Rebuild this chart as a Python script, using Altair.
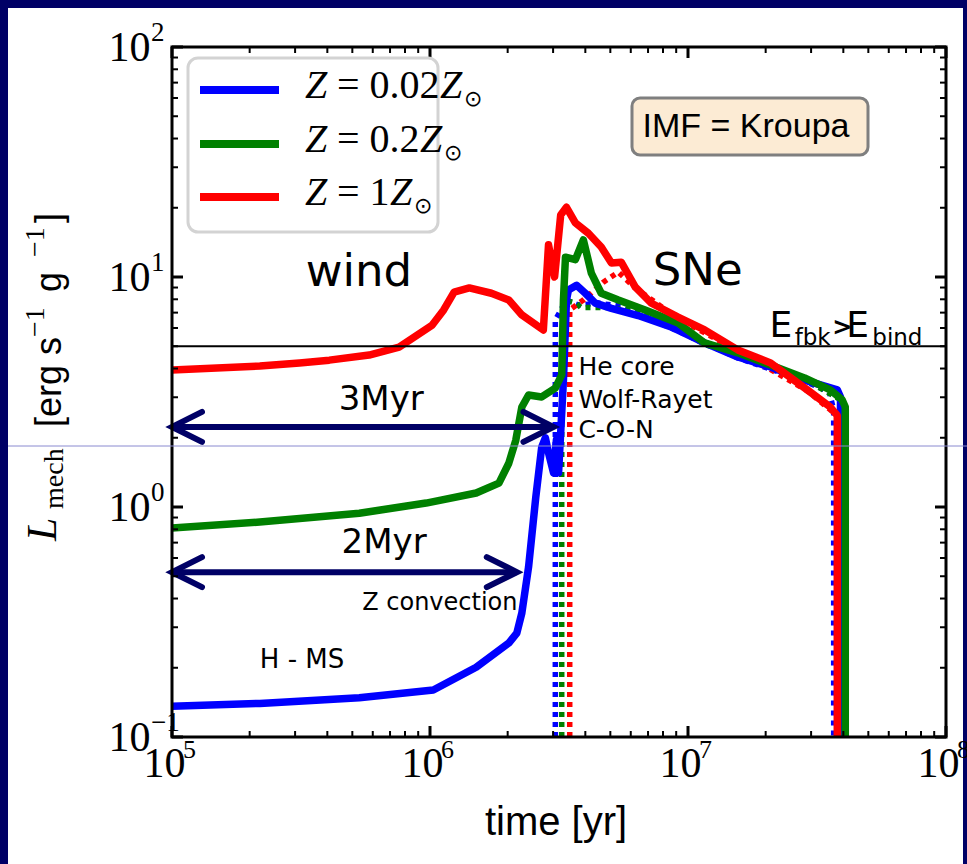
import altair as alt
import pandas as pd

# ---------------- data ----------------
blue_t = [1.00e5, 2.19e5, 5.32e5, 1.03e6, 1.51e6, 2.02e6, 2.17e6, 2.27e6, 2.41e6, 2.57e6,
          2.71e6, 2.80e6, 2.88e6, 3.01e6, 3.09e6, 3.15e6, 3.29e6, 3.38e6, 3.44e6, 3.70e6,
          4.00e6, 4.37e6, 5.05e6, 6.41e6, 8.60e6, 1.16e7, 1.56e7, 2.09e7, 2.83e7, 3.79e7,
          3.90e7, 3.90e7]
blue_L = [0.136, 0.140, 0.148, 0.160, 0.201, 0.256, 0.283, 0.346, 0.548, 1.10,
          1.82, 2.00, 1.72, 1.41, 1.96, 1.41, 3.56, 7.94, 8.78, 9.20,
          8.50, 7.70, 7.30, 6.80, 6.07, 5.17, 4.49, 4.06, 3.56, 3.23,
          3.01, 0.10]

green_t = [1.00e5, 2.19e5, 5.32e5, 9.66e5, 1.51e6, 1.85e6, 2.02e6, 2.15e6, 2.27e6, 2.41e6,
           2.71e6, 3.06e6, 3.24e6, 3.29e6, 3.35e6, 3.66e6, 3.93e6, 4.22e6, 4.61e6, 5.37e6,
           6.82e6, 9.15e6, 1.16e7, 1.56e7, 2.09e7, 2.83e7, 3.56e7, 3.96e7, 4.07e7, 4.07e7]
green_L = [0.81, 0.86, 0.94, 1.04, 1.15, 1.27, 1.55, 1.95, 2.72, 3.07,
           3.01, 3.29, 3.75, 7.94, 12.2, 11.9, 14.5, 10.4, 8.50, 7.94,
           7.19, 6.31, 5.17, 4.68, 4.14, 3.64, 3.23, 2.92, 2.72, 0.10]

red_t = [1.00e5, 2.19e5, 3.12e5, 4.07e5, 5.81e5, 7.59e5, 1.02e6, 1.13e6, 1.24e6, 1.42e6,
         1.73e6, 2.02e6, 2.27e6, 2.75e6, 2.88e6, 3.04e6, 3.21e6, 3.38e6, 3.66e6, 4.11e6,
         4.61e6, 5.05e6, 5.51e6, 6.24e6, 7.19e6, 9.15e6, 1.16e7, 1.56e7, 2.09e7, 2.90e7,
         3.56e7, 3.72e7, 3.79e7, 3.79e7]
red_L = [3.94, 4.10, 4.23, 4.35, 4.58, 4.96, 6.18, 7.19, 8.60, 8.96,
         8.50, 7.94, 6.84, 5.88, 13.8, 10.0, 18.6, 20.1, 17.2, 15.5,
         13.5, 11.5, 11.6, 9.06, 7.71, 6.70, 5.89, 4.82, 4.23, 3.23,
         2.72, 2.56, 2.50, 0.10]

blue_dot_t = [3.06e6, 3.06e6, 3.38e6, 3.76e6, 4.50e6, 5.37e6, 8.6e6, 1.56e7, 2.83e7, 3.53e7, 3.67e7, 3.67e7]
blue_dot_L = [0.10, 6.5, 7.94, 7.55, 7.70, 7.48, 6.0, 4.45, 3.53, 3.16, 2.64, 0.10]
green_dot_t = [3.24e6, 3.24e6, 3.32e6, 3.66e6, 3.85e6, 4.90e6, 6.82e6, 1.16e7, 2.83e7, 3.96e7, 4.07e7, 4.07e7]
green_dot_L = [0.10, 3.56, 7.94, 7.71, 7.37, 7.37, 7.05, 5.10, 3.60, 2.90, 2.70, 0.10]
red_dot_t = [3.48e6, 3.48e6, 3.93e6, 4.70e6, 5.37e6, 6.24e6, 9.15e6, 1.56e7, 2.90e7, 3.72e7, 3.79e7, 3.79e7]
red_dot_L = [0.10, 7.2, 7.94, 9.5, 10.5, 8.96, 6.6, 4.78, 3.20, 2.54, 2.50, 0.10]

E_bind = 5.0

x_major = [1e5, 1e6, 1e7, 1e8]
x_exp = ["5", "6", "7", "8"]
y_major = [0.1, 1, 10, 100]
y_exp = ["\u22121", "0", "1", "2"]
x_minor = [m * d for d in [1e5, 1e6, 1e7] for m in range(2, 10)]
y_minor = [m * d for d in [0.1, 1, 10] for m in range(2, 10)]

legend_labels = [("0.02", 268), ("0.2", 248), ("1", 218)]
series_colors = ["#0000ff", "#008000", "#ff0000"]

NAVY = "#000066"
W, H = 774, 690

# ---------------- scales / axes ----------------
xs = alt.Scale(type="log", domain=[1e5, 1e8], nice=False)
ys = alt.Scale(type="log", domain=[0.1, 100], nice=False)
xaxis = alt.Axis(values=x_major, labelExpr="'10'", ticks=False, domain=False, grid=False,
                 labelFont="Liberation Serif", labelFontSize=42, labelColor="black",
                 labelPadding=6, labelOffset=-8, labelFlush=False, labelOverlap=False,
                 labelBound=False, title="", zindex=2)
yaxis = alt.Axis(values=y_major, labelExpr="'10'", ticks=False, domain=False, grid=False,
                 labelFont="Liberation Serif", labelFontSize=42, labelColor="black",
                 labelPadding=22, labelBaseline="middle", labelFlush=False,
                 labelOverlap=False, labelBound=False, title="", zindex=2)


def X(f):
    return alt.X(f, type="quantitative", scale=xs, axis=xaxis)


def Y(f):
    return alt.Y(f, type="quantitative", scale=ys, axis=yaxis)


def sdf(t, L):
    return pd.DataFrame({"t": t, "L": L, "i": list(range(len(t)))})


def one():
    return pd.DataFrame({"k": [0]})


def line(t, L, color, **kw):
    return alt.Chart(sdf(t, L)).mark_line(color=color, clip=True, **kw).encode(
        x=X("t"), y=Y("L"), order="i:Q")


def ann(text, t, L, **kw):
    return alt.Chart(pd.DataFrame({"t": [t], "L": [L], "s": [text]})).mark_text(**kw).encode(
        x=X("t"), y=Y("L"), text="s:N")


def ptxt(text, x, y, **kw):
    return alt.Chart(pd.DataFrame({"s": [text]})).mark_text(**kw).encode(
        x=alt.value(x), y=alt.value(y), text="s:N")


layers = []

# white slide panel
layers.append(alt.Chart(one()).mark_rect(color="white").encode(
    x=alt.value(-164), x2=alt.value(791), y=alt.value(-39), y2=alt.value(817)))

# dotted lines
for t, L, c in [(blue_dot_t, blue_dot_L, series_colors[0]),
                (green_dot_t, green_dot_L, series_colors[1]),
                (red_dot_t, red_dot_L, series_colors[2])]:
    layers.append(line(t, L, c, strokeWidth=5.5, strokeDash=[5, 5]))

# solid lines
for t, L, c in [(blue_t, blue_L, series_colors[0]),
                (green_t, green_L, series_colors[1]),
                (red_t, red_L, series_colors[2])]:
    layers.append(line(t, L, c, strokeWidth=7.5, strokeJoin="round"))

# binding-energy line
layers.append(alt.Chart(pd.DataFrame({"L": [E_bind]})).mark_rule(
    color="black", strokeWidth=2).encode(y=Y("L")))

# arrows
arrows = pd.DataFrame({"t0": [1e5, 1e5], "t1": [3.01e6, 2.17e6], "L": [2.23, 0.521]})
layers.append(alt.Chart(arrows).mark_rule(color=NAVY, strokeWidth=6).encode(
    x=X("t0"), x2="t1", y=Y("L")))
layers.append(alt.Chart(arrows).mark_point(
    shape="M-1,-0.5L0,0L-1,0.5", filled=False, size=3600, strokeWidth=6, color=NAVY,
    opacity=1, strokeCap="round").encode(x=X("t1"), y=Y("L")))
layers.append(alt.Chart(arrows).mark_point(
    shape="M1,-0.5L0,0L1,0.5", filled=False, size=3600, strokeWidth=6, color=NAVY,
    opacity=1, strokeCap="round").encode(x=X("t0"), y=Y("L")))

# annotations
F = "DejaVu Sans"
layers.append(ann("wind", 5.3e5, 9.14, font=F, fontSize=45, align="center", baseline="alphabetic"))
layers.append(ann("SNe", 1.09e7, 9.22, font=F, fontSize=45, align="center", baseline="alphabetic"))
layers.append(ann("3Myr", 6.47e5, 2.64, font=F, fontSize=34, align="center", baseline="alphabetic"))
layers.append(ann("2Myr", 6.64e5, 0.63, font=F, fontSize=34, align="center", baseline="alphabetic"))
layers.append(ann("Z convection", 5.46e5, 0.356, font=F, fontSize=24, align="left", baseline="alphabetic"))
layers.append(ann("H - MS", 2.19e5, 0.20, font=F, fontSize=26, align="left", baseline="alphabetic"))
for s, L in [("He core", 3.75), ("Wolf-Rayet", 2.69), ("C-O-N", 2.0)]:
    layers.append(ann(s, 3.76e6, L, font=F, fontSize=25, align="left", baseline="alphabetic"))
layers.append(ann("E", 2.07e7, 5.48, font=F, fontSize=36, align="left", baseline="alphabetic"))
layers.append(ann("fbk", 2.59e7, 5.06, font=F, fontSize=23, align="left", baseline="alphabetic"))
layers.append(ann(">", 3.62e7, 6.0, font=F, fontSize=24, fontWeight="bold", align="left", baseline="middle"))
layers.append(ann("E", 4.11e7, 5.48, font=F, fontSize=36, align="left", baseline="alphabetic"))
layers.append(ann("bind", 5.18e7, 5.06, font=F, fontSize=23, align="left", baseline="alphabetic"))

# frame and inward ticks
layers.append(alt.Chart(one()).mark_rect(filled=False, stroke="black", strokeWidth=3).encode(
    x=alt.value(0), x2=alt.value(W), y=alt.value(0), y2=alt.value(H)))
for vals, ln, sw in [(x_major, 11, 3), (x_minor, 6, 2)]:
    d = pd.DataFrame({"v": vals})
    layers.append(alt.Chart(d).mark_rule(color="black", strokeWidth=sw).encode(
        x=X("v"), y=alt.value(H), y2=alt.value(H - ln)))
    layers.append(alt.Chart(d).mark_rule(color="black", strokeWidth=sw).encode(
        x=X("v"), y=alt.value(0), y2=alt.value(ln)))
for vals, ln, sw in [(y_major, 11, 3), (y_minor, 6, 2)]:
    d = pd.DataFrame({"v": vals})
    layers.append(alt.Chart(d).mark_rule(color="black", strokeWidth=sw).encode(
        y=Y("v"), x=alt.value(0), x2=alt.value(ln)))
    layers.append(alt.Chart(d).mark_rule(color="black", strokeWidth=sw).encode(
        y=Y("v"), x=alt.value(W), x2=alt.value(W - ln)))

# tick label exponents
layers.append(alt.Chart(pd.DataFrame({"v": x_major, "e": x_exp})).mark_text(
    font="Liberation Serif", fontSize=26, align="left", baseline="alphabetic", dx=11,
    color="black").encode(x=X("v"), y=alt.value(711), text="e:N"))
layers.append(alt.Chart(pd.DataFrame({"v": y_major, "e": y_exp})).mark_text(
    font="Liberation Serif", fontSize=27, align="left", baseline="middle", dy=-14,
    color="black").encode(y=Y("v"), x=alt.value(-21), text="e:N"))

# axis titles
layers.append(ptxt("time [yr]", 384, 788, font="Liberation Sans", fontSize=40,
                   align="center", baseline="alphabetic"))
for s, x, y, fnt, fs, style in [
        ("L", -116, 494, "Liberation Serif", 42, "italic"),
        ("mech", -109, 462, "Liberation Serif", 28, "normal"),
        ("[erg s", -111, 380, "Liberation Sans", 36, "normal"),
        ("\u22121", -128, 290, "Liberation Serif", 28, "normal"),
        ("g", -111, 245, "Liberation Sans", 36, "normal"),
        ("\u22121", -128, 210, "Liberation Serif", 28, "normal"),
        ("]", -111, 176, "Liberation Sans", 36, "normal")]:
    layers.append(ptxt(s, x, y, font=fnt, fontSize=fs, fontStyle=style, angle=270,
                       align="left", baseline="alphabetic"))

# legend
layers.append(alt.Chart(one()).mark_rect(fill="white", stroke="#d3d3d3", strokeWidth=3,
                                         cornerRadius=10).encode(
    x=alt.value(16), x2=alt.value(266), y=alt.value(11), y2=alt.value(185)))
for (num, zx), c, yl, yb in zip(legend_labels, series_colors, [43, 97, 150], [51, 105, 158]):
    layers.append(alt.Chart(one()).mark_rule(color=c, strokeWidth=8).encode(
        x=alt.value(28), x2=alt.value(107), y=alt.value(yl)))
    layers.append(ptxt("Z", 133, yb, font="Liberation Serif", fontSize=40, fontStyle="italic",
                       align="left", baseline="alphabetic"))
    layers.append(ptxt("= " + num, 165, yb, font="Liberation Serif", fontSize=40,
                       align="left", baseline="alphabetic"))
    layers.append(ptxt("Z", zx, yb, font="Liberation Serif", fontSize=40, fontStyle="italic",
                       align="left", baseline="alphabetic"))
    layers.append(ptxt("\u2299", zx + 24, yb + 8, font="DejaVu Sans", fontSize=22,
                       align="left", baseline="alphabetic"))

# IMF box
layers.append(alt.Chart(one()).mark_rect(fill="#fcebd4", stroke="#7f7f7f", strokeWidth=3,
                                         cornerRadius=8).encode(
    x=alt.value(460), x2=alt.value(696), y=alt.value(51), y2=alt.value(108)))
layers.append(ptxt("IMF = Kroupa", 574, 80, font="Liberation Sans", fontSize=34,
                   align="center", baseline="middle"))

# thin projector line across the slide
layers.append(alt.Chart(one()).mark_rule(color="#8a8ad0", strokeWidth=1).encode(
    x=alt.value(-164), x2=alt.value(795), y=alt.value(399)))

chart = alt.layer(*layers).properties(
    width=W, height=H,
    autosize=alt.AutoSizeParams(type="none"),
    padding={"left": 172, "top": 47, "right": 21, "bottom": 127},
    background=NAVY,
).configure_view(strokeWidth=0)

chart.save("out.html", embed_options={"renderer": "svg", "actions": False})
